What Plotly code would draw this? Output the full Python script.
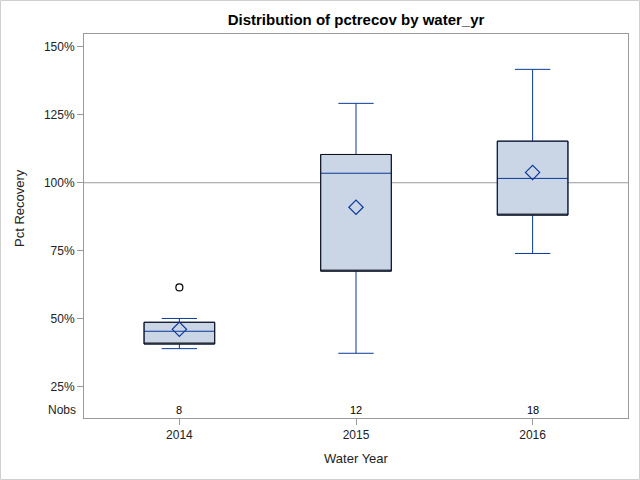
import plotly.graph_objects as go

years = ["2014", "2015", "2016"]
q1 = [40.7, 67.5, 88.1]
median = [45.4, 103.5, 101.6]
q3 = [48.7, 110.4, 115.3]
lower_whisker = [39.0, 37.3, 74.0]
upper_whisker = [50.1, 129.2, 141.7]
means = [46.1, 91.0, 103.8]
nobs = [8, 12, 18]
outlier_years = ["2014"]
outlier_values = [61.5]
reference_value = 100
y_ticks = [25, 50, 75, 100, 125, 150]
y_tick_labels = ["25%", "50%", "75%", "100%", "125%", "150%"]

BLUE = "#0B3A99"
FILL = "#CAD5E5"
FONT = "Liberation Sans, Arial, sans-serif"

fig = go.Figure()

# full box: whiskers and median in blue
fig.add_trace(go.Box(
    x=years, q1=q1, median=median, q3=q3,
    lowerfence=lower_whisker, upperfence=upper_whisker,
    fillcolor=FILL, line=dict(color=BLUE, width=1),
    width=0.4, whiskerwidth=0.5, boxpoints=False, showlegend=False,
    hoverinfo="skip",
))
# black outline of box (interquartile range only)
fig.add_trace(go.Box(
    x=years, q1=q1, median=q1, q3=q3,
    lowerfence=q1, upperfence=q3,
    fillcolor="rgba(0,0,0,0)", line=dict(color="#111", width=1),
    width=0.4, whiskerwidth=0, boxpoints=False, showlegend=False,
    hoverinfo="skip",
))
# means
fig.add_trace(go.Scatter(
    x=years, y=means, mode="markers",
    marker=dict(symbol="diamond-open", size=11, color=BLUE, line=dict(width=1.2, color=BLUE)),
    showlegend=False, hoverinfo="skip",
))
# outliers
fig.add_trace(go.Scatter(
    x=outlier_years, y=outlier_values, mode="markers",
    marker=dict(symbol="circle-open", size=7, color="black", line=dict(width=1.2, color="black")),
    showlegend=False, hoverinfo="skip",
))

fig.add_hline(y=reference_value, line=dict(color="#9a9a9a", width=1), layer="below")

# Nobs row
for i, n in enumerate(nobs):
    fig.add_annotation(x=i, y=16.4, text=str(n), showarrow=False,
                       font=dict(size=11, color="black", family=FONT), yanchor="middle")
fig.add_annotation(x=0, xref="paper", xshift=-6, xanchor="right", y=16.4, text="Nobs",
                   showarrow=False, font=dict(size=12, color="#222", family=FONT))

# y axis title annotation
fig.add_annotation(x=0, xref="paper", xshift=-64, xanchor="center", y=0.547, yref="paper",
                   text="Pct Recovery", textangle=-90, showarrow=False,
                   font=dict(size=13, color="#222", family=FONT))

# outer image border
fig.add_shape(type="rect", xref="paper", yref="paper",
              x0=(0.5 - 84) / 544, x1=(639.5 - 84) / 544,
              y0=(418 - 479.5) / 384, y1=(418 - 0.5) / 384,
              line=dict(color="#d0d0d0", width=1), layer="below")

fig.update_layout(
    width=640, height=480,
    margin=dict(l=84, r=12, t=34, b=62),
    paper_bgcolor="white", plot_bgcolor="white",
    boxmode="overlay",
    title=dict(text="<b>Distribution of pctrecov by water_yr</b>", x=356 / 640, xanchor="center",
               y=1 - 20 / 480, yanchor="middle",
               font=dict(size=15, color="black", family=FONT)),
    font=dict(family=FONT, size=12, color="#222"),
    xaxis=dict(type="category", range=[-0.54, 2.54], showgrid=False, zeroline=False,
               showline=True, linecolor="#999", mirror=True, linewidth=1,
               ticks="outside", ticklen=6, tickcolor="#999",
               tickfont=dict(size=12, color="#222"),
               title=dict(text="Water Year", font=dict(size=13, color="#222"), standoff=12)),
    yaxis=dict(range=[13.5, 154.7], showgrid=False, zeroline=False,
               showline=True, linecolor="#999", mirror=True, linewidth=1,
               ticks="outside", ticklen=6, tickcolor="#999",
               tickvals=y_ticks, ticktext=y_tick_labels,
               tickfont=dict(size=12, color="#222")),
)

fig.write_html("out.html", config={"displayModeBar": False},
               post_script="document.body.style.margin='0';document.body.style.overflow='hidden';")
